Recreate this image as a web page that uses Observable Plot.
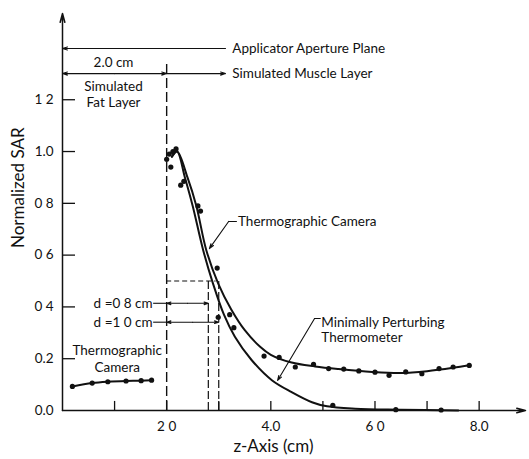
<!DOCTYPE html>
<html><head><meta charset="utf-8">
<script src="https://cdn.jsdelivr.net/npm/d3@7"></script>
<script src="https://cdn.jsdelivr.net/npm/@observablehq/plot@0.6"></script>
<style>body{margin:0;background:#fff} svg{display:block}</style>
</head><body><div id="chart"></div>
<script>
// ---- data (z in cm, normalized SAR) ----
const fatCameraZ   = [0.19, 0.57, 0.87, 1.22, 1.51, 1.71];
const fatCameraSAR = [0.093, 0.106, 0.111, 0.114, 0.115, 0.117];

const cameraDotZ   = [2.0, 2.05, 2.08, 2.12, 2.18, 2.27, 2.33, 2.6, 2.65, 2.97, 3.21, 3.87, 4.16, 4.47, 4.82, 5.11, 5.40, 5.69, 6.0, 6.27, 6.59, 6.9, 7.23, 7.5, 7.81];
const cameraDotSAR = [0.97, 0.99, 0.94, 1.0, 1.01, 0.87, 0.885, 0.79, 0.77, 0.55, 0.37, 0.21, 0.205, 0.168, 0.178, 0.162, 0.16, 0.153, 0.148, 0.136, 0.149, 0.142, 0.162, 0.168, 0.174];

const cameraFitZ   = [2.1, 2.2, 2.4, 2.57, 2.76, 2.99, 3.24, 3.5, 3.8, 4.0, 4.4, 4.85, 5.3, 5.95, 6.5, 7.0, 7.5, 7.81];
const cameraFitSAR = [0.98, 1.0, 0.90, 0.79, 0.62, 0.49, 0.39, 0.31, 0.245, 0.215, 0.185, 0.17, 0.16, 0.149, 0.145, 0.152, 0.165, 0.175];

const thermoDotZ   = [2.99, 3.29, 5.19, 6.4, 7.27];
const thermoDotSAR = [0.36, 0.32, 0.02, 0.003, 0.002];

const thermoFitZ   = [2.1, 2.2, 2.35, 2.5, 2.7, 2.89, 3.1, 3.31, 3.63, 4.02, 4.4, 4.79, 5.08, 5.62, 6.5, 7.6];
const thermoFitSAR = [0.98, 1.0, 0.9, 0.79, 0.62, 0.49, 0.37, 0.285, 0.195, 0.117, 0.071, 0.032, 0.016, 0.007, 0.003, 0.0];

const xTicks = [1, 2, 3, 4, 5, 6, 7, 8];
const xLabelValues = [2, 4, 6, 8];
const xLabels = ["2 0", "4.0", "6 0", "8.0"];
const yTicks = [0.2, 0.4, 0.6, 0.8, 1.0, 1.2];
const yLabelValues = [0, 0.2, 0.4, 0.6, 0.8, 1.0, 1.2];
const yLabels = ["0.0", "0.2", "0 4", "0 6", "0 8", "1.0", "1 2"];

const fatBoundary = 2.0;          // cm
const halfDepths = [2.8, 3.0];    // z where SAR = 0.5
const halfLevel = 0.5;

const zip = (xs, ys) => xs.map((x, i) => ({x, y: ys[i]}));
const FONT = "Lato, 'DejaVu Sans', sans-serif";
const arrowOpts = {x1: "x1", y1: "y1", x2: "x2", y2: "y2", stroke: "#111", strokeWidth: 1.1, headLength: 7, headAngle: 35};

const chart = Plot.plot({
  width: 529, height: 459,
  marginLeft: 62, marginRight: 4, marginTop: 13, marginBottom: 49,
  x: {type: "linear", domain: [0, 8.89], axis: null},
  y: {type: "linear", domain: [0, 1.533], axis: null},
  style: {fontFamily: FONT, color: "#111", background: "#fff"},
  marks: [
    // axes with arrowheads
    Plot.arrow([{x1: 0, y1: 0, x2: 0, y2: 1.533}], {...arrowOpts, strokeWidth: 1.5, headLength: 9, headAngle: 30}),
    Plot.arrow([{x1: 0, y1: 0, x2: 8.89, y2: 0}], {...arrowOpts, strokeWidth: 1.5, headLength: 9, headAngle: 30}),
    // ticks (inside)
    Plot.ruleY(yTicks, {y: d => d, x1: 0, x2: 0.25, stroke: "#111", strokeWidth: 1.3}),
    Plot.ruleX(xTicks, {x: d => d, y1: 0, y2: 0.035, stroke: "#111", strokeWidth: 1.3}),
    Plot.text(yLabelValues, {x: 0, y: d => d, text: (d, i) => yLabels[i], textAnchor: "end", dx: -9, fontSize: 13.5}),
    Plot.text(xLabelValues, {x: d => d, y: 0, text: (d, i) => xLabels[i], dy: 16, fontSize: 13.5}),
    // axis titles
    Plot.text(["Normalized SAR"], {frameAnchor: "left", dx: -44, dy: 36, rotate: -90, fontSize: 17}),
    Plot.text(["z-Axis (cm)"], {x: 4.05, frameAnchor: "bottom", lineAnchor: "middle", dy: 36, fontSize: 17}),

    // fat/muscle boundary
    Plot.ruleX([fatBoundary], {y1: 0, y2: 1.35, stroke: "#111", strokeWidth: 1.4, strokeDasharray: "10,4"}),
    // half-power dashed guides
    Plot.ruleY([halfLevel], {x1: fatBoundary, x2: 2.95, stroke: "#111", strokeWidth: 1.2, strokeDasharray: "5,3"}),
    Plot.ruleX(halfDepths, {y1: 0, y2: halfLevel, stroke: "#111", strokeWidth: 1.2, strokeDasharray: "8,3"}),

    // Applicator aperture plane
    Plot.arrow([{x1: 3.13, y1: 1.398, x2: 0, y2: 1.398}], arrowOpts),
    Plot.text(["Applicator Aperture Plane"], {x: 3.26, y: 1.398, textAnchor: "start", fontSize: 13.5}),
    // 2.0 cm fat layer double arrow
    Plot.arrow([{x1: 1.0, y1: 1.301, x2: 0, y2: 1.301}, {x1: 1.0, y1: 1.301, x2: fatBoundary, y2: 1.301}], arrowOpts),
    Plot.arrow([{x1: fatBoundary, y1: 1.301, x2: 3.13, y2: 1.301}], arrowOpts),
    Plot.text(["Simulated Muscle Layer"], {x: 3.26, y: 1.301, textAnchor: "start", fontSize: 13.5}),
    Plot.text(["2.0 cm"], {x: 0.98, y: 1.345, fontSize: 13.5}),
    Plot.text(["Simulated", "Fat Layer"], {x: 0.98, y: (d, i) => [1.251, 1.19][i], fontSize: 13.5}),

    // d = 0.8 / 1.0 cm arrows
    Plot.ruleY([0.414, 0.341], {x1: 1.75, x2: fatBoundary, y: d => d, stroke: "#111", strokeWidth: 1.1}),
    Plot.arrow(halfDepths.flatMap((h, i) => {
      const yy = [0.414, 0.341][i], m = (fatBoundary + h) / 2;
      return [{x1: m, y1: yy, x2: fatBoundary, y2: yy}, {x1: m, y1: yy, x2: h, y2: yy}];
    }), {...arrowOpts, headLength: 6}),
    Plot.text(["d =0 8 cm", "d =1 0 cm"], {x: 1.73, y: (d, i) => [0.414, 0.341][i], textAnchor: "end", fontSize: 13.5}),

    // curves
    Plot.line(zip(cameraFitZ, cameraFitSAR), {x: "x", y: "y", curve: "catmull-rom", stroke: "#111", strokeWidth: 2}),
    Plot.line(zip(thermoFitZ, thermoFitSAR), {x: "x", y: "y", curve: "catmull-rom", stroke: "#111", strokeWidth: 2}),
    Plot.line(zip(fatCameraZ, fatCameraSAR), {x: "x", y: "y", curve: "monotone-x", stroke: "#111", strokeWidth: 2}),
    // dots
    Plot.dot(zip(fatCameraZ, fatCameraSAR), {x: "x", y: "y", r: 2.6, fill: "#111"}),
    Plot.dot(zip(cameraDotZ, cameraDotSAR), {x: "x", y: "y", r: 2.6, fill: "#111"}),
    Plot.dot(zip(thermoDotZ, thermoDotSAR), {x: "x", y: "y", r: 2.6, fill: "#111"}),

    // curve labels with leaders
    Plot.line([{x: 3.34, y: 0.73}, {x: 3.19, y: 0.73}], {x: "x", y: "y", stroke: "#111", strokeWidth: 1.1}),
    Plot.arrow([{x1: 3.19, y1: 0.73, x2: 2.82, y2: 0.625}], arrowOpts),
    Plot.text(["Thermographic Camera"], {x: 3.37, y: 0.73, textAnchor: "start", fontSize: 13.5}),
    Plot.line([{x: 4.95, y: 0.355}, {x: 4.84, y: 0.355}], {x: "x", y: "y", stroke: "#111", strokeWidth: 1.1}),
    Plot.arrow([{x1: 4.84, y1: 0.355, x2: 4.13, y2: 0.116}], arrowOpts),
    Plot.text(["Minimally Perturbing", "Thermometer"], {x: 4.97, y: (d, i) => [0.341, 0.283][i], textAnchor: "start", fontSize: 13.5}),
    Plot.text(["Thermographic", "Camera"], {x: 1.05, y: (d, i) => [0.232, 0.167][i], fontSize: 13.5})
  ]
});
document.getElementById("chart").appendChild(chart);
</script>
</body></html>
